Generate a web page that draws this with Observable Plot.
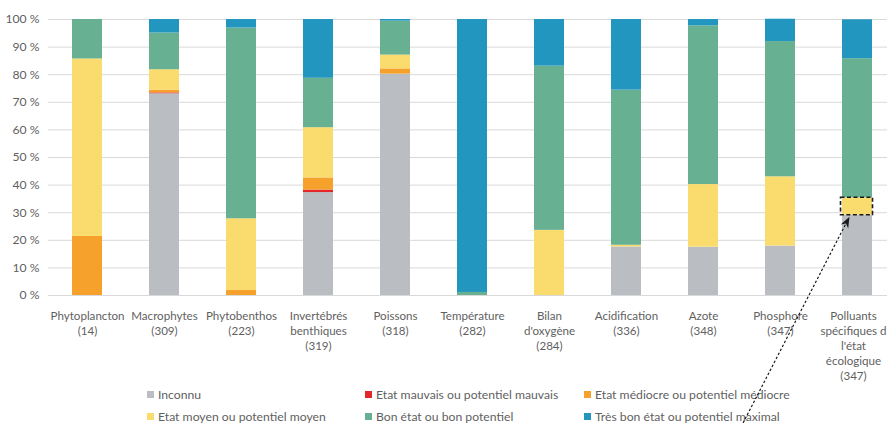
<!DOCTYPE html>
<html>
<head>
<meta charset="utf-8">
<script src="https://cdn.jsdelivr.net/npm/d3@7"></script>
<script src="https://cdn.jsdelivr.net/npm/@observablehq/plot@0.6"></script>
<style>
  html, body { margin: 0; padding: 0; background: #fff; }
  #wrap { position: relative; width: 887px; height: 423px; font-family: Lato, "Open Sans", sans-serif; }
  #legend { position: absolute; left: 147px; top: 386px; display: grid;
    grid-template-columns: 218px 219px 240px; row-gap: 6px; z-index: 0;
    font-size: 12.2px; color: #5f5f5f; }
  #legend .item { display: flex; align-items: center; height: 16px; white-space: nowrap; }
  #legend .sw { width: 7px; height: 7px; margin-right: 4px; flex: none; }
  #chart { position: absolute; left: 0; top: 0; z-index: 1; }
</style>
</head>
<body>
<div id="wrap">
  <div id="legend"></div>
  <div id="chart"></div>
</div>
<script>
// Categories and number of water bodies
const categories = ["Phytoplancton", "Macrophytes", "Phytobenthos", "Invertébrés benthiques", "Poissons", "Température", "Bilan d'oxygène", "Acidification", "Azote", "Phosphore", "Polluants spécifiques"];
const tickLabels = ["Phytoplancton", "Macrophytes", "Phytobenthos", "Invertébrés\nbenthiques", "Poissons", "Température", "Bilan\nd'oxygène", "Acidification", "Azote", "Phosphore", "Polluants\nspécifiques d\nl'état\nécologique"];
const counts = [14, 309, 223, 319, 318, 282, 284, 336, 348, 347, 347];

// Series (share of water bodies, %)
const series = ["Inconnu", "Etat mauvais ou potentiel mauvais", "Etat médiocre ou potentiel médiocre", "Etat moyen ou potentiel moyen", "Bon état ou bon potentiel", "Très bon état ou potentiel maximal"];
const colors = ["#babdc1", "#e2262a", "#f5a12b", "#fadc6e", "#67b092", "#2396bf"];
const inconnu  = [0,    73.1, 0,    37.3, 80.2, 0,    0,    17.6, 17.5, 17.9, 29.1];
const mauvais  = [0,    0.3,  0,    0.9,  0,    0,    0,    0,    0,    0,    0];
const mediocre = [21.4, 1.0,  1.8,  4.4,  1.9,  0,    0,    0,    0,    0,    0];
const moyen    = [64.3, 7.4,  26.0, 18.2, 5.0,  0,    23.6, 0.6,  22.7, 25.1, 6.3];
const bon      = [14.3, 13.3, 69.1, 17.9, 12.3, 1.1,  59.5, 56.2, 57.5, 49.0, 50.4];
const tresBon  = [0,    4.9,  3.1,  21.3, 0.6,  98.9, 16.9, 25.6, 2.3,  8.1,  14.1];
const yTicks = [0, 10, 20, 30, 40, 50, 60, 70, 80, 90, 100];

const seriesValues = [inconnu, mauvais, mediocre, moyen, bon, tresBon];
const rows = [];
categories.forEach((c, i) => {
  series.forEach((s, j) => rows.push({cat: c, serie: s, value: seriesValues[j][i]}));
});
const labelOf = new Map(categories.map((c, i) => [c, `${tickLabels[i]}\n(${counts[i]})`]));

// highlighted segment (Polluants, Etat moyen)
const hi = categories.length - 1;
const highlight = [{cat: categories[hi], y1: inconnu[hi], y2: inconnu[hi] + moyen[hi]}];

const textColor = "#5f5f5f";
const xAxisOpts = {tickSize: 0, tickPadding: 13.5, tickFormat: d => labelOf.get(d), fill: textColor, fontSize: 11.6, lineHeight: 1.3, label: null};
const chart = Plot.plot({
  width: 887,
  height: 423,
  marginTop: 19,
  marginBottom: 128,
  marginLeft: 48,
  marginRight: 0,
  style: {background: "transparent", fontFamily: "Lato, 'Open Sans', sans-serif", fontSize: "12px", color: textColor, overflow: "visible"},
  x: {domain: categories, range: [48.5, 895.5], paddingInner: 0.61, paddingOuter: 0.305, align: 0.5},
  y: {domain: [0, 100]},
  color: {domain: series, range: colors},
  marks: [
    Plot.gridY(yTicks, {stroke: "#d9d9d9", strokeOpacity: 1}),
    Plot.barY(rows, {x: "cat", y: "value", fill: "serie"}),
    Plot.barY(highlight, {x: "cat", y1: "y1", y2: "y2", fill: "none", stroke: "#1a1a1a", strokeWidth: 1.6, strokeDasharray: "4,2.5", insetLeft: -1.5, insetRight: -0.5}),
    Plot.axisY(yTicks, {tickSize: 0, tickPadding: 9, tickFormat: d => `${d} %`, fill: textColor, fontSize: 12.2, label: null}),
    Plot.axisX(categories.slice(0, -1), xAxisOpts),
    Plot.axisX(categories.slice(-1), {...xAxisOpts, dx: -4})
  ]
});
document.getElementById("chart").appendChild(chart);

// Arrow annotation, positioned through the chart's scales
const sx = chart.scale("x"), sy = chart.scale("y");
const band = d3.scaleBand().domain(sx.domain).range(sx.range).paddingInner(sx.paddingInner).paddingOuter(sx.paddingOuter).align(sx.align);
const yLin = d3.scaleLinear().domain(sy.domain).range(sy.range);
const tipX = band(categories[hi]) + band.bandwidth() * 0.25;
const tipY = yLin(inconnu[hi]) + 2;
const startX = band(categories[hi - 1]) - band.bandwidth() * 0.73;
const startY = 423;
const svg = d3.select(chart);
const ang = Math.atan2(tipY - startY, tipX - startX);
const L = 11, W = 4.2;
const bx = tipX - L * Math.cos(ang), by = tipY - L * Math.sin(ang);
const nx = -Math.sin(ang), ny = Math.cos(ang);
const g = svg.append("g");
g.append("line")
  .attr("x1", startX).attr("y1", startY)
  .attr("x2", bx + 2 * Math.cos(ang)).attr("y2", by + 2 * Math.sin(ang))
  .attr("stroke", "#1a1a1a").attr("stroke-width", 1.2).attr("stroke-dasharray", "2.5,2");
const mx = tipX - 0.7 * L * Math.cos(ang), my = tipY - 0.7 * L * Math.sin(ang);
g.append("path")
  .attr("d", `M${tipX},${tipY}L${bx + W * nx},${by + W * ny}L${mx},${my}L${bx - W * nx},${by - W * ny}Z`)
  .attr("fill", "#1a1a1a");

// Legend
const legend = d3.select("#legend");
series.forEach((s, i) => {
  const it = legend.append("div").attr("class", "item");
  it.append("span").attr("class", "sw").style("background", colors[i]);
  it.append("span").text(s);
});
</script>
</body>
</html>
